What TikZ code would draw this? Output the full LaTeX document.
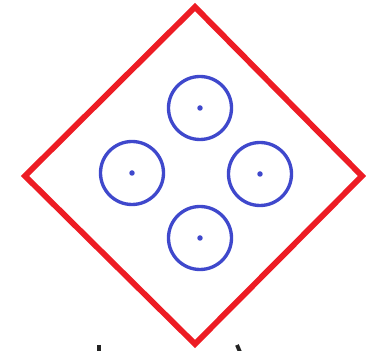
\documentclass[tikz,border=0pt]{standalone}
\usetikzlibrary{calc}
\definecolor{paintred}{RGB}{237, 28, 36}
\definecolor{paintblue}{RGB}{63, 72, 204}
\definecolor{inkgray}{RGB}{35, 35, 35}

\begin{document}
\begin{tikzpicture}[
        x=0.02cm, y=-0.02cm,
        frame/.style={
            draw=paintred,
            line width=3.3pt,
            line join=miter
        },
        hole/.style={
            circle,
            draw=paintblue,
            line width=1.9pt,
            minimum size=63*0.02cm,
            inner sep=0pt
        },
        pin/.style={
            circle,
            fill=paintblue,
            minimum size=0.11cm,
            inner sep=0pt
        },
        stub/.style={
            draw=inkgray,
            line width=2.2pt
        }
    ]
        \useasboundingbox (0,0) rectangle (366,351);

        % outer diamond
        \coordinate (n) at (195,7);
        \coordinate (w) at (25,176);
        \coordinate (s) at (195,344);
        \coordinate (e) at (362,176);
        \draw[frame] (n) -- (e) -- (s) -- (w) -- cycle;

        % four holes
        \node[hole] (holeN) at (200,108) {};
        \node[hole] (holeW) at (132,173) {};
        \node[hole] (holeE) at (260,174) {};
        \node[hole] (holeS) at (200,238) {};
        \node[pin] at (holeN.center) {};
        \node[pin] at (holeW.center) {};
        \node[pin] at (holeE.center) {};
        \node[pin] at (holeS.center) {};

        % cut-off marks at the lower edge
        \draw[stub] (99,345) -- (99,352);
        \draw[stub] (237,345) -- (240,352);
    \end{tikzpicture}
\end{document}
